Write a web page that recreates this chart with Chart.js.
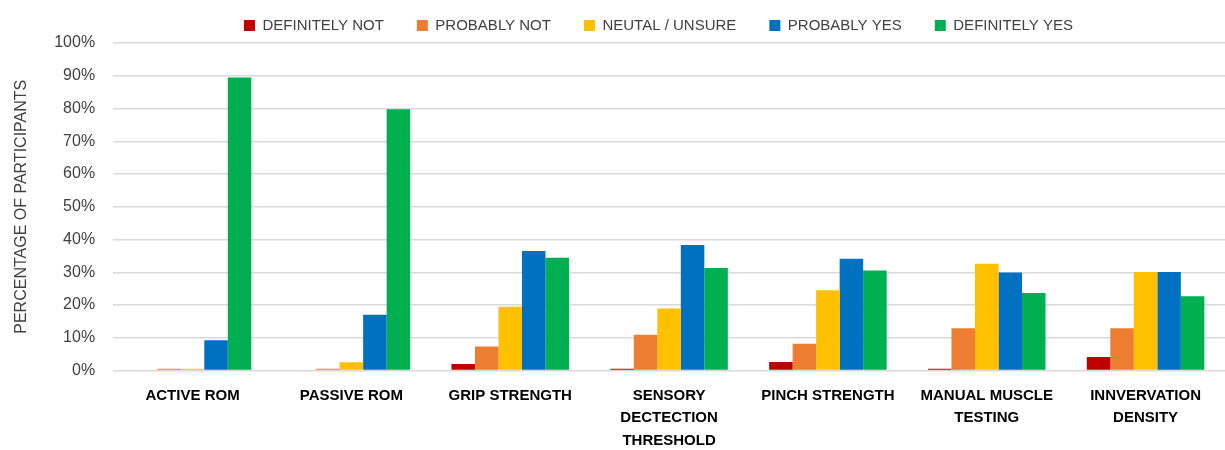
<!DOCTYPE html>
<html>
<head>
<meta charset="utf-8">
<script src="https://cdn.jsdelivr.net/npm/chart.js@4"></script>
<style>
  html, body { margin: 0; padding: 0; background: #fff; }
  #wrap { width: 1225px; height: 450px; }
</style>
</head>
<body>
<div id="wrap"><canvas id="myChart"></canvas></div>
<script>
// danh mục và dữ liệu (%)
const categories = ['ACTIVE ROM', 'PASSIVE ROM', 'GRIP STRENGTH', ['SENSORY', 'DECTECTION', 'THRESHOLD'],
  'PINCH STRENGTH', ['MANUAL MUSCLE', 'TESTING'], ['INNVERVATION', 'DENSITY']];
const seriesNames = ['DEFINITELY NOT', 'PROBABLY NOT', 'NEUTAL / UNSURE', 'PROBABLY YES', 'DEFINITELY YES'];
const definitelyNot = [0, 0, 2.0, 0.5, 2.6, 0.5, 4.1];
const probablyNot = [0.5, 0.5, 7.3, 10.9, 8.2, 12.9, 12.9];
const neutral = [0.5, 2.5, 19.5, 18.9, 24.5, 32.6, 30.1];
const probablyYes = [9.2, 17.0, 36.5, 38.3, 34.1, 29.9, 30.1];
const definitelyYes = [89.5, 79.8, 34.4, 31.3, 30.5, 23.7, 22.7];
const yTicks = [0, 10, 20, 30, 40, 50, 60, 70, 80, 90, 100];

const colors = ['#C00000', '#ED7D31', '#FFC000', '#0070C0', '#00B050'];
const values = [definitelyNot, probablyNot, neutral, probablyYes, definitelyYes];

// dời legend sang phải cho giống hình gốc
const legendShift = {
  id: 'legendShift',
  afterLayout(chart) {
    chart.legend.left += 42;
    chart.legend.right += 42;
  }
};

const ctx = document.getElementById('myChart');
new Chart(ctx, {
  type: 'bar',
  data: {
    labels: categories,
    datasets: seriesNames.map((name, i) => ({
      label: name,
      data: values[i],
      backgroundColor: colors[i],
      borderWidth: 0,
      categoryPercentage: 0.74,
      barPercentage: 1
    }))
  },
  options: {
    responsive: true,
    maintainAspectRatio: false,
    animation: false,
    layout: { padding: { top: -15, left: 8, right: 0, bottom: -16 } },
    plugins: {
      legend: {
        position: 'top',
        labels: {
          boxWidth: 11,
          boxHeight: 11,
          padding: 33,
          color: '#404040',
          font: { family: 'Liberation Sans', size: 15 }
        }
      },
      tooltip: { enabled: false }
    },
    scales: {
      x: {
        grid: { display: false, drawTicks: false },
        border: { display: false },
        ticks: {
          autoSkip: false,
          maxRotation: 0,
          padding: 14,
          color: '#000',
          font: { family: 'Liberation Sans', size: 15, weight: 'bold', lineHeight: 1.5 }
        }
      },
      y: {
        min: 0,
        max: 100,
        afterBuildTicks: (axis) => { axis.ticks = yTicks.map((v) => ({ value: v })); },
        grid: { color: '#d9d9d9', lineWidth: 1.5, drawTicks: false },
        border: { display: false },
        ticks: {
          padding: 18,
          color: '#404040',
          font: { family: 'Liberation Sans', size: 16 },
          callback: (v) => v + '%'
        },
        title: {
          display: true,
          text: 'PERCENTAGE OF PARTICIPANTS',
          color: '#404040',
          padding: { top: 4, bottom: 5 },
          font: { family: 'Liberation Sans', size: 16 }
        }
      }
    }
  },
  plugins: [legendShift]
});
</script>
</body>
</html>
